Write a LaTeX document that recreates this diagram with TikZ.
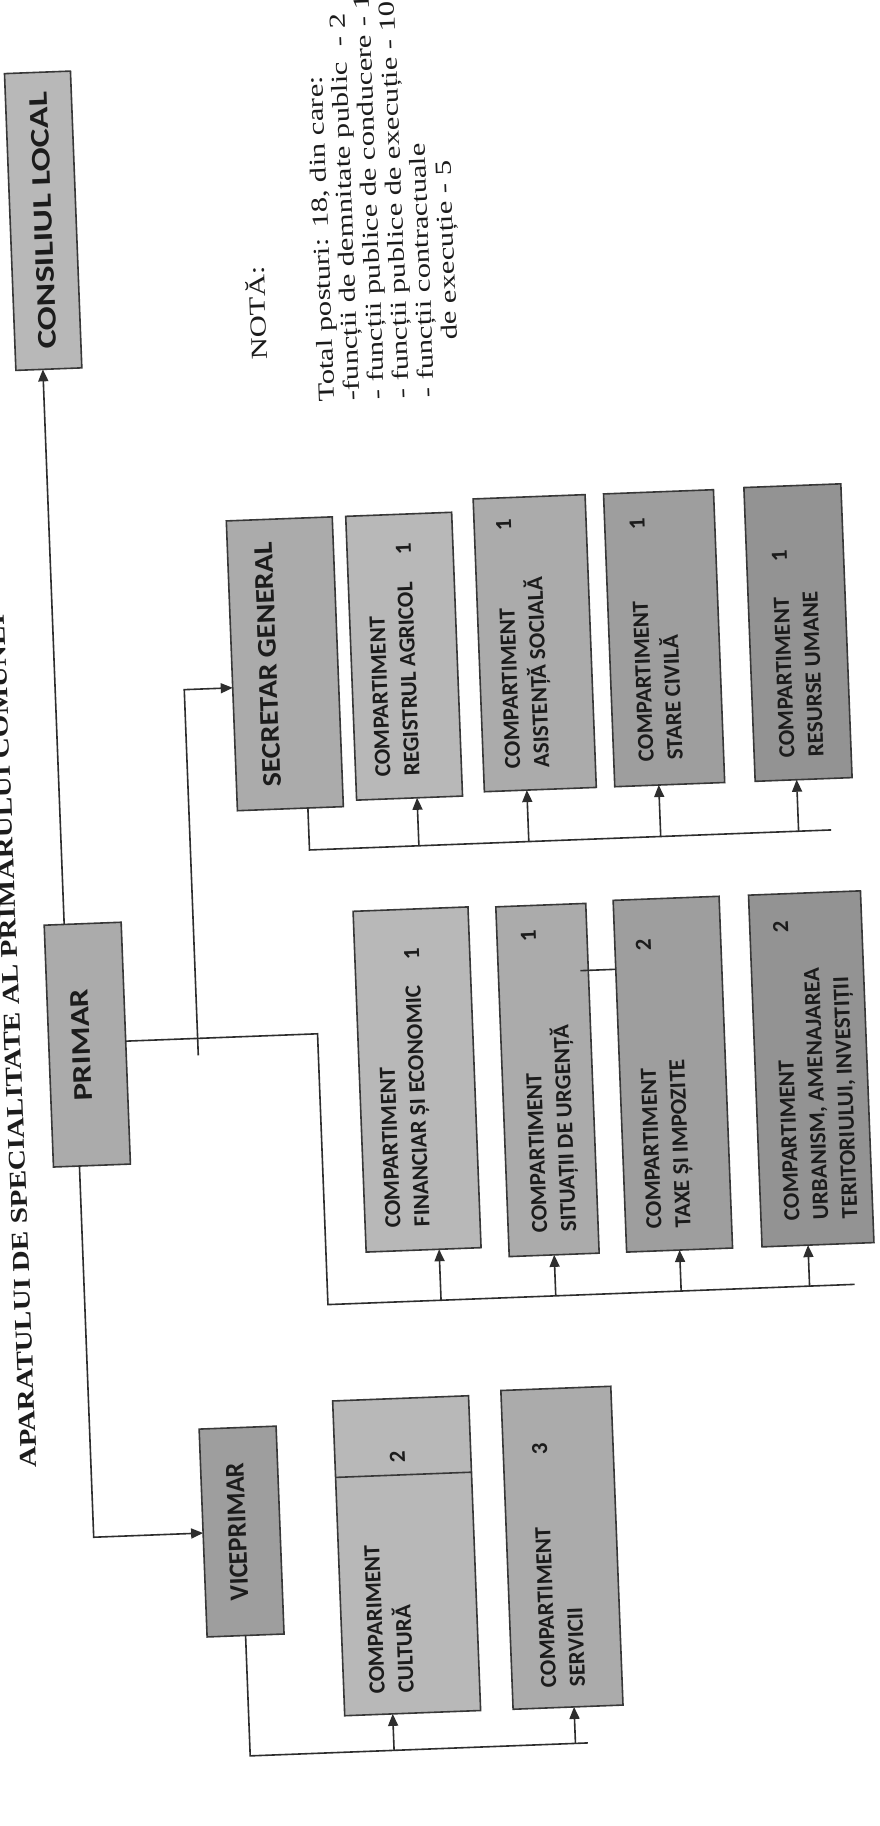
\documentclass[tikz,border=0pt]{standalone}
\usepackage{fontspec}
\setmainfont{Liberation Serif}
\newfontfamily\carl{Carlito}
\usepackage{graphicx}
\usetikzlibrary{arrows.meta,calc}
\definecolor{bord}{HTML}{383838}
\definecolor{lnk}{HTML}{2E2E2E}
\definecolor{ink}{HTML}{1C1C1C}
\definecolor{fa}{HTML}{B8B8B8}
\definecolor{fb}{HTML}{ABABAB}
\definecolor{fc}{HTML}{9E9E9E}
\definecolor{fd}{HTML}{939393}
\newcommand\fitx[2]{\resizebox{#1}{\height}{#2}}
\begin{document}
\begin{tikzpicture}[x=1pt,y=-1pt,
  box/.style={draw=bord, line width=1.6pt, inner sep=0pt, outer sep=0pt},
  head/.style={rotate=90, inner sep=0pt, text=ink, font=\carl\bfseries\fontsize{27}{30}\selectfont},
  comp/.style={rotate=90, anchor=west, inner sep=0pt, text=ink, font=\carl\bfseries\fontsize{23}{29}\selectfont},
  link/.style={draw=lnk, line width=1.6pt},
  arr/.style={link, -{Triangle[length=12pt,width=10pt]}},
  serif/.style={rotate=90, anchor=base west, inner sep=0pt, text=ink, font=\fontsize{23}{25}\selectfont},
  ttl/.style={rotate=90, anchor=base west, inner sep=0pt, text=ink, font=\bfseries\fontsize{24}{28}\selectfont}]
\path[use as bounding box, fill=white] (0,0) rectangle (880,1826);
\begin{scope}[transform canvas={rotate around={2.2:(440,913)}}]
% boxes
\node[box, fill=fa, minimum width=66pt, minimum height=297pt] (cl) at (70,206) {};
\node[box, fill=fb, minimum width=77pt, minimum height=242pt] (primar) at (82.5,1031) {};
\node[box, fill=fc, minimum width=77pt, minimum height=208pt] (vice) at (218,1523.5) {};
\node[box, fill=fb, minimum width=106pt, minimum height=290pt] (sg) at (294.5,658) {};
\node[box, fill=fa, minimum width=106pt, minimum height=284pt] (reg) at (414,655) {};
\node[box, fill=fb, minimum width=112pt, minimum height=293pt] (asis) at (545,647) {};
\node[box, fill=fc, minimum width=110pt, minimum height=293pt] (stare) at (674.5,647) {};
\node[box, fill=fd, minimum width=97pt, minimum height=294pt] (resu) at (808.5,646.5) {};
\node[box, fill=fa, minimum width=115pt, minimum height=341pt] (fin) at (410.7,1078.5) {};
\node[box, fill=fb, minimum width=90pt, minimum height=350pt] (sit) at (541,1084) {};
\node[box, fill=fc, minimum width=106pt, minimum height=352pt] (taxe) at (666.5,1083) {};
\node[box, fill=fd, minimum width=112pt, minimum height=352pt] (urb) at (805,1083) {};
\node[box, fill=fa, minimum width=136pt, minimum height=315pt] (cult) at (382,1554) {};
\node[box, fill=fb, minimum width=110pt, minimum height=319pt] (serv) at (537.5,1552) {};
\coordinate (cdiv) at (0,1473);
\draw[draw=bord, line width=1.6pt] (cult.west |- cdiv) -- (cult.east |- cdiv);
% head texts
\node[head] (tcl) at (cl.center) {\fitx{257pt}{CONSILIUL LOCAL}};
\node[head] (tpr) at ($(primar.center)+(-6,0)$) {\fitx{112pt}{PRIMAR}};
\node[head] (tvi) at ($(vice.center)+(-4.5,0)$) {\fitx{138pt}{VICEPRIMAR}};
\node[head] (tsg) at ($(sg.center)+(-17,0)$) {\fitx{245pt}{SECRETAR GENERAL}};
% compartment texts
\node[comp] (treg) at ($(reg.south)+(-11,-22)$) {\parbox{233pt}{COMPARTIMENT\\REGISTRUL AGRICOL\hfill 1}};
\node[comp] (tasis) at ($(asis.south)+(-10,-22)$) {\parbox{249pt}{COMPARTIMENT\hfill 1\\ASISTENȚĂ SOCIALĂ}};
\node[comp] (tstare) at ($(stare.south)+(-8,-24)$) {\parbox{243pt}{COMPARTIMENT\hfill 1\\STARE CIVILĂ}};
\node[comp] (tresu) at ($(resu.south)+(-1,-22)$) {\parbox{208pt}{COMPARTIMENT\hfill 1\\RESURSE UMANE}};
\node[comp] (tfin) at ($(fin.south)+(-13,-23)$) {\parbox{279pt}{COMPARTIMENT\\FINANCIAR ȘI ECONOMIC\hfill 1}};
\node[comp] (tsit) at ($(sit.south)+(3,-22)$) {\parbox{303pt}{COMPARTIMENT\hfill 1\\SITUAȚII DE URGENȚĂ}};
\node[comp] (ttaxe) at ($(taxe.south)+(-8,-22)$) {\parbox{290pt}{COMPARTIMENT\hfill 2\\TAXE ȘI IMPOZITE}};
\node[comp] (turb) at ($(urb.south)+(6,-25)$) {\parbox{300pt}{COMPARTIMENT\hfill 2\\URBANISM, AMENAJAREA\\TERITORIULUI, INVESTIȚII}};
\node[comp] (tcult) at ($(cult.south)+(-20,-20)$) {\parbox{242pt}{COMPARIMENT\\CULTURĂ\hfill 2}};
\node[comp] (tserv) at ($(serv.south)+(-4,-20)$) {\parbox{245pt}{COMPARTIMENT\hfill 3\\SERVICII}};
% free texts
\node[ttl] (title) at (16,1452) {\scalebox{1.21}[1]{APARATULUI DE SPECIALITATE AL PRIMARULUI COMUNEI}};
\node[serif] (nota) at (289,353.5) {\scalebox{1.33}[1]{NOTĂ:}};
\node[serif] (note) at (354.4,398) {\scalebox{1.33}[1]{\begin{tabular}[t]{@{}l@{}}Total posturi: 18, din care:\\-funcții de demnitate public\ \ - 2\\- funcții publice de conducere - 1\\- funcții publice de execuție - 10\\- funcții contractuale\\\hspace*{43pt}de execuție - 5\end{tabular}}};
% connectors
\coordinate (cA) at (64,600);
\draw[arr] (primar.north -| cA) -- (cl.south -| cA);
\coordinate (cB) at (70,1300);
\draw[arr] (primar.south -| cB) |- (vice.west);
\coordinate (jC) at (313,1029);
\coordinate (busL) at (313,1300);
\coordinate (busR) at (840,1300);
\draw[link] (primar.east |- jC) -- (jC) -- (busL) -- (busR);
\coordinate (afin) at ($(fin.south)+(15.5,0)$);
\draw[arr] (afin |- busL) -- (afin);
\draw[arr] (sit.south |- busL) -- (sit.south);
\draw[arr] (taxe.south |- busL) -- (taxe.south);
\coordinate (aurb) at ($(urb.south)+(-10,0)$);
\draw[arr] (aurb |- busL) -- (aurb);
\coordinate (sA) at (193,1046);
\coordinate (sgin) at ($(sg.west)+(0,22)$);
\draw[arr] (sA) |- (sgin);
\coordinate (sgd) at ($(sg.south)+(17.5,0)$);
\coordinate (sbR) at (834,845);
\draw[link] (sgd) |- (sbR);
\coordinate (areg) at ($(reg.south)+(7.5,0)$);
\draw[arr] (areg |- sbR) -- (areg);
\coordinate (aasis) at ($(asis.south)+(-13.5,0)$);
\draw[arr] (aasis |- sbR) -- (aasis);
\coordinate (astare) at ($(stare.south)+(-11,0)$);
\draw[arr] (astare |- sbR) -- (astare);
\coordinate (aresu) at ($(resu.south)+(-7,0)$);
\draw[arr] (aresu |- sbR) -- (aresu);
\coordinate (vR) at (556,1748);
\draw[link] (vice.south) |- (vR);
\coordinate (acult) at ($(cult.south)+(-20,0)$);
\draw[arr] (acult |- vR) -- (acult);
\coordinate (aserv) at ($(serv.south)+(6,0)$);
\draw[arr] (aserv |- vR) -- (aserv);
\coordinate (gk) at (578,976);
\draw[link] (gk) -- (gk -| taxe.west);
\end{scope}
\end{tikzpicture}
\end{document}
